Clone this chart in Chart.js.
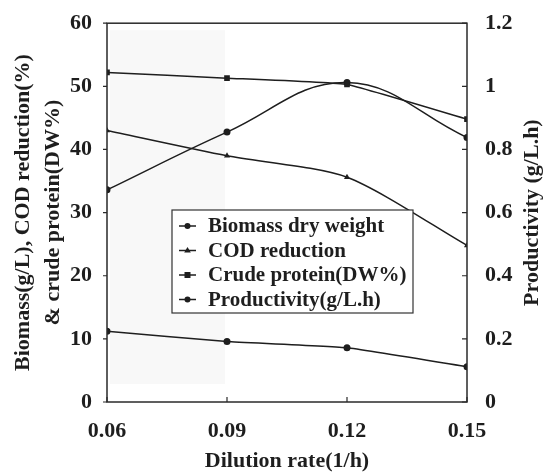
<!DOCTYPE html>
<html><head><meta charset="utf-8">
<script src="https://cdn.jsdelivr.net/npm/chart.js@4.4.0/dist/chart.umd.min.js"></script>
<style>html,body{margin:0;padding:0;background:#fff;}#wrap{width:547px;height:472px;position:relative}</style>
</head><body><div id="wrap"><canvas id="c" width="547" height="472"></canvas></div>
<script>
const dilution = [0.06, 0.09, 0.12, 0.15];
const biomass = [11.2, 9.6, 8.6, 5.6];
const codReduction = [43.0, 39.0, 35.6, 24.8];
const crudeProtein = [52.2, 51.3, 50.3, 44.8];
const productivity = [0.672, 0.855, 1.012, 0.838];
const seriesLabels = ['Biomass dry weight', 'COD reduction', 'Crude protein(DW%)', 'Productivity(g/L.h)'];
const xTicks = [0.06, 0.09, 0.12, 0.15];
const xTickLabels = ['0.06', '0.09', '0.12', '0.15'];
const yLeftTicks = [0, 10, 20, 30, 40, 50, 60];
const yLeftTickLabels = ['0', '10', '20', '30', '40', '50', '60'];
const yRightTicks = [0, 0.2, 0.4, 0.6, 0.8, 1, 1.2];
const yRightTickLabels = ['0', '0.2', '0.4', '0.6', '0.8', '1', '1.2'];
const xTitle = 'Dilution rate(1/h)';
const yLeftTitle = ['Biomass(g/L), COD reduction(%)', '& crude protein(DW%)'];
const yRightTitle = 'Productivity (g/L.h)';

const FONT = "'Liberation Serif', 'DejaVu Serif', serif";
const INK = '#1e1e1e';

function pts(ys){ return dilution.map((x, i) => ({x: x, y: ys[i]})); }

function drawMarker(ctx, style, x, y, r){
  ctx.beginPath();
  if (style === 'rect') { ctx.rect(x - r, y - r, 2 * r, 2 * r); }
  else if (style === 'triangle') { ctx.moveTo(x, y - r * 1.2); ctx.lineTo(x + r * 1.1, y + r * 0.7); ctx.lineTo(x - r * 1.1, y + r * 0.7); ctx.closePath(); }
  else { ctx.arc(x, y, r, 0, Math.PI * 2); }
  ctx.fill();
}

const framePlugin = {
  id: 'frame',
  beforeDatasetsDraw(chart){
    const {ctx, chartArea: a} = chart;
    ctx.save();
    ctx.fillStyle = '#f8f8f8';
    ctx.fillRect(a.left + 3, a.top + 7, 115, a.bottom - a.top - 25);
    ctx.restore();
  },
  afterDraw(chart){
    const {ctx, chartArea: a, scales} = chart;
    ctx.save();
    ctx.strokeStyle = '#2a2a2a';
    ctx.lineWidth = 1.5;
    ctx.strokeRect(a.left, a.top, a.right - a.left, a.bottom - a.top);
    ctx.lineWidth = 1.2;
    ctx.beginPath();
    yLeftTicks.forEach(v => { const y = scales.y.getPixelForValue(v); ctx.moveTo(a.left - 4, y); ctx.lineTo(a.left, y); });
    yRightTicks.forEach(v => { const y = scales.y1.getPixelForValue(v); ctx.moveTo(a.right - 5, y); ctx.lineTo(a.right, y); });
    xTicks.forEach(v => { const x = scales.x.getPixelForValue(v); ctx.moveTo(x, a.bottom); ctx.lineTo(x, a.bottom - 5); });
    ctx.stroke();

    // right axis title, reading bottom to top
    ctx.save();
    ctx.translate(532, (a.top + a.bottom) / 2);
    ctx.rotate(-Math.PI / 2);
    ctx.font = 'bold 22px ' + FONT;
    ctx.fillStyle = INK;
    ctx.textAlign = 'center';
    ctx.textBaseline = 'middle';
    ctx.fillText(yRightTitle, 0, 0);
    ctx.restore();

    // legend
    const bx = 172, by = 210, bw = 241, bh = 103;
    ctx.fillStyle = '#fff';
    ctx.fillRect(bx, by, bw, bh);
    ctx.lineWidth = 1.2;
    ctx.strokeStyle = '#333';
    ctx.strokeRect(bx, by, bw, bh);
    ctx.font = 'bold 21px ' + FONT;
    ctx.textBaseline = 'middle';
    ctx.textAlign = 'left';
    chart.data.datasets.forEach((ds, i) => {
      const cy = by + 16 + i * 24.5;
      ctx.strokeStyle = INK; ctx.lineWidth = 1.5;
      ctx.beginPath(); ctx.moveTo(bx + 7, cy); ctx.lineTo(bx + 24, cy); ctx.stroke();
      ctx.fillStyle = INK;
      drawMarker(ctx, ds.pointStyle, bx + 15.5, cy, 3);
      ctx.fillText(ds.label, bx + 36, cy + 1);
    });
    ctx.restore();
  }
};

const common = { borderColor: INK, backgroundColor: INK, borderWidth: 1.5, pointBorderWidth: 0 };

new Chart(document.getElementById('c'), {
  type: 'line',
  data: {
    datasets: [
      Object.assign({ label: seriesLabels[0], data: pts(biomass), yAxisID: 'y', pointStyle: 'circle', pointRadius: 3.5, tension: 0.1 }, common),
      Object.assign({ label: seriesLabels[1], data: pts(codReduction), yAxisID: 'y', pointStyle: 'triangle', pointRadius: 3.5, tension: 0.25 }, common),
      Object.assign({ label: seriesLabels[2], data: pts(crudeProtein), yAxisID: 'y', pointStyle: 'rect', pointRadius: 4, tension: 0.1 }, common),
      Object.assign({ label: seriesLabels[3], data: pts(productivity), yAxisID: 'y1', pointStyle: 'circle', pointRadius: 3.5, tension: 0.4 }, common)
    ]
  },
  options: {
    responsive: false,
    devicePixelRatio: 1,
    animation: false,
    layout: { padding: { top: 18, left: 0, right: 0, bottom: 0 } },
    plugins: { legend: { display: false }, tooltip: { enabled: false } },
    scales: {
      x: {
        type: 'linear', position: 'bottom', min: 0.06, max: 0.15,
        afterBuildTicks(s){ s.ticks = xTicks.map(v => ({ value: v })); },
        afterFit(s){ s.height = 70; },
        grid: { display: false }, border: { display: false },
        ticks: { callback: (v, i) => xTickLabels[i], font: { family: FONT, size: 22, weight: 'bold' }, color: INK, padding: 8, maxRotation: 0, autoSkip: false },
        title: { display: true, text: xTitle, font: { family: FONT, size: 22, weight: 'bold', lineHeight: 1 }, padding: { top: 0, bottom: 0 }, color: INK }
      },
      y: {
        type: 'linear', position: 'left', min: 0, max: 60,
        afterBuildTicks(s){ s.ticks = yLeftTicks.map(v => ({ value: v })); },
        afterFit(s){ s.width = 107; },
        grid: { display: false }, border: { display: false },
        ticks: { callback: (v, i) => yLeftTickLabels[i], font: { family: FONT, size: 22, weight: 'bold' }, color: INK, padding: 7 },
        title: { display: true, text: yLeftTitle, font: { family: FONT, size: 22, weight: 'bold', lineHeight: 1.364 }, padding: { top: 8, bottom: 0 }, color: INK }
      },
      y1: {
        type: 'linear', position: 'right', min: 0, max: 1.2,
        afterBuildTicks(s){ s.ticks = yRightTicks.map(v => ({ value: v })); },
        afterFit(s){ s.width = 80; },
        grid: { display: false }, border: { display: false },
        ticks: { callback: (v, i) => yRightTickLabels[i], font: { family: FONT, size: 22, weight: 'bold' }, color: INK, padding: 10 },
        title: { display: false }
      }
    }
  },
  plugins: [framePlugin]
});
</script>
</body></html>
